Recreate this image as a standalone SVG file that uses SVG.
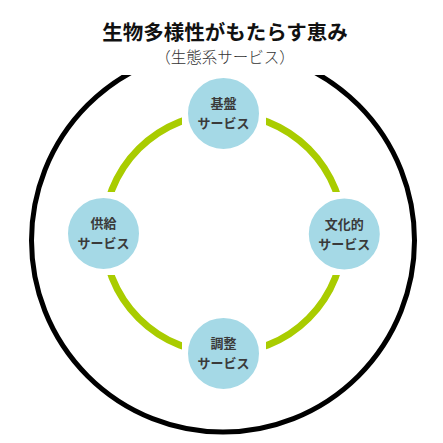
<svg xmlns="http://www.w3.org/2000/svg" width="443" height="443" viewBox="0 0 443 443">
<style>
.title{font-family:"Noto Sans CJK JP","Noto Sans",sans-serif;font-weight:700;font-size:20.5px;fill:#111;text-anchor:middle}
.sub{font-family:"Noto Sans CJK JP","Noto Sans",sans-serif;font-weight:300;font-size:15.5px;fill:#333;text-anchor:middle}
.node circle{fill:#A5D9E6;stroke:#fff;stroke-width:2}
.node text{font-family:"Noto Sans CJK JP","Noto Sans",sans-serif;font-weight:700;font-size:13px;fill:#3a3a3a;text-anchor:middle}
</style>
<defs>
<clipPath id="topcut"><rect x="0" y="75" width="443" height="368"/></clipPath>
<mask id="gaps" maskUnits="userSpaceOnUse" x="0" y="0" width="443" height="443">
<rect x="0" y="0" width="443" height="443" fill="#fff"/>
<rect x="182" y="60" width="84" height="100" fill="#000"/>
<rect x="182" y="300" width="84" height="100" fill="#000"/>
<rect x="50" y="192" width="110" height="83" fill="#000"/>
<rect x="290" y="192" width="110" height="83" fill="#000"/>
</mask>
</defs>
<rect width="443" height="443" fill="#fff"/>
<circle cx="223" cy="240.5" r="191.5" fill="none" stroke="#000" stroke-width="5" clip-path="url(#topcut)"/>
<text class="title" x="225" y="40">生物多様性がもたらす恵み</text>
<text class="sub" x="225" y="63">（生態系サービス）</text>
<g id="connectors">
<circle cx="223.7" cy="233.5" r="120" fill="none" stroke="#A9CC00" stroke-width="7" mask="url(#gaps)"/>
</g>
<g id="node-kiban" class="node">
<circle cx="223.5" cy="113.5" r="36.5"/>
<text x="223.5" y="108">基盤</text>
<text x="223.5" y="128">サービス</text>
</g>
<g id="node-kyokyu" class="node">
<circle cx="103.5" cy="233.5" r="36.5"/>
<text x="103.5" y="228">供給</text>
<text x="103.5" y="248">サービス</text>
</g>
<g id="node-bunka" class="node">
<circle cx="344.3" cy="234" r="36.5"/>
<text x="344.3" y="228.5">文化的</text>
<text x="344.3" y="248.5">サービス</text>
</g>
<g id="node-chosei" class="node">
<circle cx="223.5" cy="353.5" r="36.5"/>
<text x="223.5" y="348">調整</text>
<text x="223.5" y="368">サービス</text>
</g>
</svg>
